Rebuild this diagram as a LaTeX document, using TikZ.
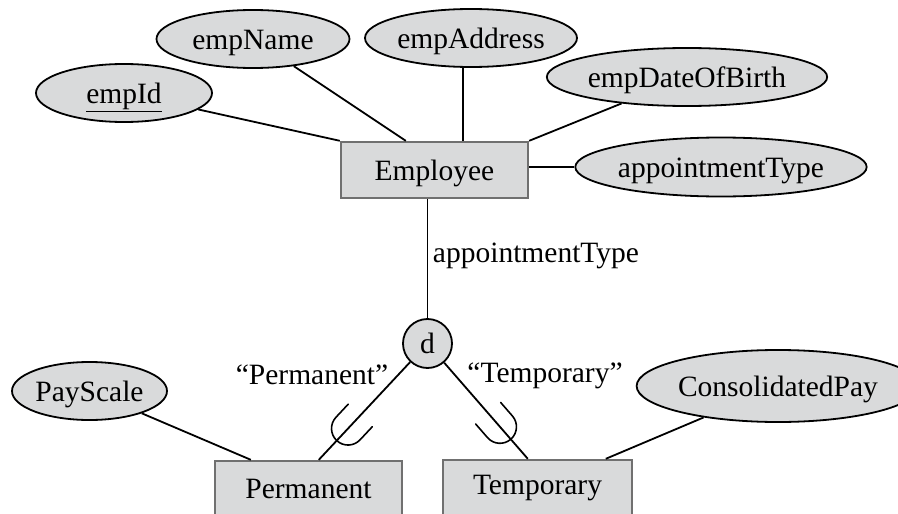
\documentclass[tikz,border=0pt]{standalone}
\usepackage{fontspec}
\setmainfont{Liberation Serif}
\usetikzlibrary{shapes.geometric,calc,decorations.markings}

\definecolor{boxfill}{HTML}{D9DADB}
\definecolor{boxedge}{HTML}{707070}

\tikzset{
  lbl/.style={font=\fontsize{29.5}{34}\selectfont, inner sep=0pt},
  % fixed text box so that the capitals sit on the middle line
  midtext/.style={text height=21pt, text depth=0pt},
  entity/.style={lbl, draw=boxedge, line width=2.4pt, fill=boxfill,
                 minimum width=187pt, minimum height=56pt},
  attr/.style={lbl, midtext, ellipse, draw=black, line width=1.8pt, fill=boxfill,
               minimum height=58pt},
  disj/.style={lbl, circle, draw=black, line width=1.8pt, fill=boxfill,
               minimum size=49pt},
  link/.style={draw=black, line width=1.8pt},
  subset/.style 2 args={postaction={decorate}, decoration={markings,
      mark=at position #1 with {
        \draw[line width=1.6pt, line cap=round]
          (-#2,16.5pt) -- (0pt,16.5pt)
          arc[start angle=90, end angle=-90, radius=16.5pt]
          -- (-#2,-16.5pt);}}}
}

\begin{document}
\begin{tikzpicture}[x=1pt, y=-1pt]
  \clip (0,0) rectangle (898,514);
  \useasboundingbox (0,0) rectangle (898,514);

  % superclass and its attributes
  \node[entity, midtext] (emp) at (434.5,170) {Employee};
  \node[attr, minimum width=176pt] (empId) at (124,93) {\underline{empId}};
  \node[attr, minimum width=193pt] (empName) at (253,39) {empName};
  \node[attr, minimum width=212pt] (empAddress) at (471,38) {empAddress};
  \node[attr, minimum width=249pt] (empDob) at (687,77) {empDateOfBirth};
  \node[attr, minimum width=257pt, minimum height=59pt] (apptType) at (721,167) {appointmentType};

  % specialization circle and defining attribute
  \node[disj] (d) at (427.5,343.5) {d};
  \node[lbl] (defAttr) at (536,256) {appointmentType};

  % subclasses and their attributes
  \node[entity] (perm) at (308.5,489) {Permanent};
  \node[entity, minimum width=189pt] (temp) at (537.5,488) {Temporary};
  \node[attr, minimum width=155pt] (payScale) at (89.5,391) {PayScale};
  \node[attr, minimum width=242pt, minimum height=72pt] (consPay) at (778,386) {ConsolidatedPay};

  % condition labels
  \node[lbl] (permCond) at (312,375) {“Permanent”};
  \node[lbl] (tempCond) at (545,376) {“Temporary”};

  % attachment points on the entity borders
  \coordinate (eName) at ($(emp.north west)+(66,0)$);
  \coordinate (eAddr) at ($(emp.north west)+(123,0)$);
  \coordinate (pTop)  at ($(perm.north west)+(105,0)$);
  \coordinate (pAttr) at ($(perm.north west)+(37,0)$);
  \coordinate (tTop)  at ($(temp.north west)+(86,0)$);
  \coordinate (tAttr) at ($(temp.north west)+(164,0)$);

  % attribute links
  \draw[link] (empId) -- (emp.north west);
  \draw[link] (empName) -- (eName);
  \draw[link] (eAddr |- empAddress.south) -- (eAddr);
  \draw[link] (empDob) -- (emp.north east);
  \draw[link] (emp.east |- apptType.west) -- (apptType.west);
  \draw[link] (payScale) -- (pAttr);
  \draw[link] (consPay) -- (tAttr);

  % specialization links with subset marks
  \draw[link] (d.north |- emp.south) -- (d.north);
  \draw[link, subset={91pt}{18pt}] (d) -- (pTop);
  \draw[link, subset={85pt}{18pt}] (d) -- (tTop);
\end{tikzpicture}
\end{document}
